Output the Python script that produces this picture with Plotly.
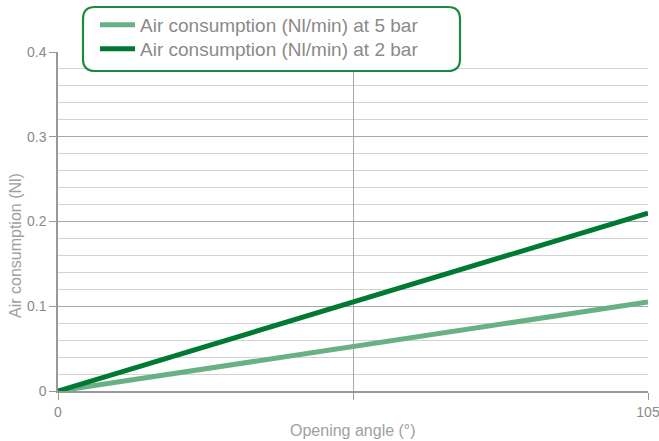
import plotly.graph_objects as go

# Opening angle (degrees) and air consumption (Nl)
angle = [0, 52.5, 105]
air_5bar = [0, 0.052, 0.105]
air_2bar = [0, 0.105, 0.21]

series_names = ["Air consumption (Nl/min) at 5 bar", "Air consumption (Nl/min) at 2 bar"]
series_colors = ["#67b185", "#007a33"]

y_ticks = [0, 0.1, 0.2, 0.3, 0.4]
y_labels = ["0", "0.1", "0.2", "0.3", "0.4"]
x_ticks = [0, 52.5, 105]
x_labels = ["0", "", "105"]

W, H = 659, 441
L, R, T, B = 58, 11, 52, 50
FONT = "Liberation Sans Narrow, Liberation Sans, Arial, sans-serif"

pw, ph = W - L - R, H - T - B
def px(x):
    return (x - L) / pw
def py(y):
    return 1 - (y - T) / ph

fig = go.Figure()
legend_ids = ["legend", "legend2"]
legend_rows = [25, 49]
for ys, name, col, lg in zip([air_5bar, air_2bar], series_names, series_colors, legend_ids):
    fig.add_trace(go.Scatter(x=angle, y=ys, mode="lines", name=name, legend=lg,
                             line=dict(color=col, width=5)))

# rounded legend frame
x0, x1, y0, y1, r = 83, 460, 7, 71, 12
path = (f"M {px(x0 + r)},{py(y0)} L {px(x1 - r)},{py(y0)} "
        f"Q {px(x1)},{py(y0)} {px(x1)},{py(y0 + r)} L {px(x1)},{py(y1 - r)} "
        f"Q {px(x1)},{py(y1)} {px(x1 - r)},{py(y1)} L {px(x0 + r)},{py(y1)} "
        f"Q {px(x0)},{py(y1)} {px(x0)},{py(y1 - r)} L {px(x0)},{py(y0 + r)} "
        f"Q {px(x0)},{py(y0)} {px(x0 + r)},{py(y0)} Z")
fig.add_shape(type="path", path=path, xref="paper", yref="paper",
              line=dict(color="#1a8a3f", width=2.2), fillcolor="white", layer="above")

legend_style = dict(xanchor="left", yanchor="middle", bgcolor="rgba(0,0,0,0)",
                    borderwidth=0, itemwidth=35,
                    font=dict(family=FONT, size=19, color="#8a8a8a"))
fig.update_layout(
    legend=dict(x=px(95), y=py(legend_rows[0]), **legend_style),
    legend2=dict(x=px(95), y=py(legend_rows[1]), **legend_style),
)

# axis titles
fig.add_annotation(text="Opening angle (°)", x=0.5, y=py(430), xref="paper", yref="paper",
                   showarrow=False, font=dict(family=FONT, size=16, color="#a0a0a0"),
                   xanchor="center", yanchor="middle")
fig.add_annotation(text="Air consumption (Nl)", x=px(15), y=py(246), xref="paper", yref="paper",
                   showarrow=False, textangle=-90, font=dict(family=FONT, size=16, color="#a0a0a0"),
                   xanchor="center", yanchor="middle")

fig.update_layout(
    width=W, height=H,
    margin=dict(l=L, r=R, t=T, b=B, autoexpand=False),
    paper_bgcolor="white", plot_bgcolor="white",
    font=dict(family=FONT, color="#8a8a8a"),
    showlegend=True,
    xaxis=dict(range=[0, 105], tickvals=x_ticks, ticktext=x_labels, automargin=False,
               showgrid=True, gridcolor="#a8a8a8", gridwidth=1,
               showline=True, linecolor="#999999", linewidth=1.5,
               ticks="outside", ticklen=7, tickcolor="#999999", ticklabeloverflow="allow",
               tickfont=dict(size=14, color="#8a8a8a"), zeroline=False),
    yaxis=dict(range=[0, 0.4], tickvals=y_ticks, ticktext=y_labels, automargin=False,
               showgrid=True, gridcolor="#a8a8a8", gridwidth=1,
               minor=dict(dtick=0.02, showgrid=True, gridcolor="#d2d2d2", gridwidth=1),
               showline=True, linecolor="#999999", linewidth=1.5,
               ticks="outside", ticklen=7, tickcolor="#999999",
               tickfont=dict(size=14, color="#8a8a8a"), zeroline=False),
)

fig.write_html("out.html")
